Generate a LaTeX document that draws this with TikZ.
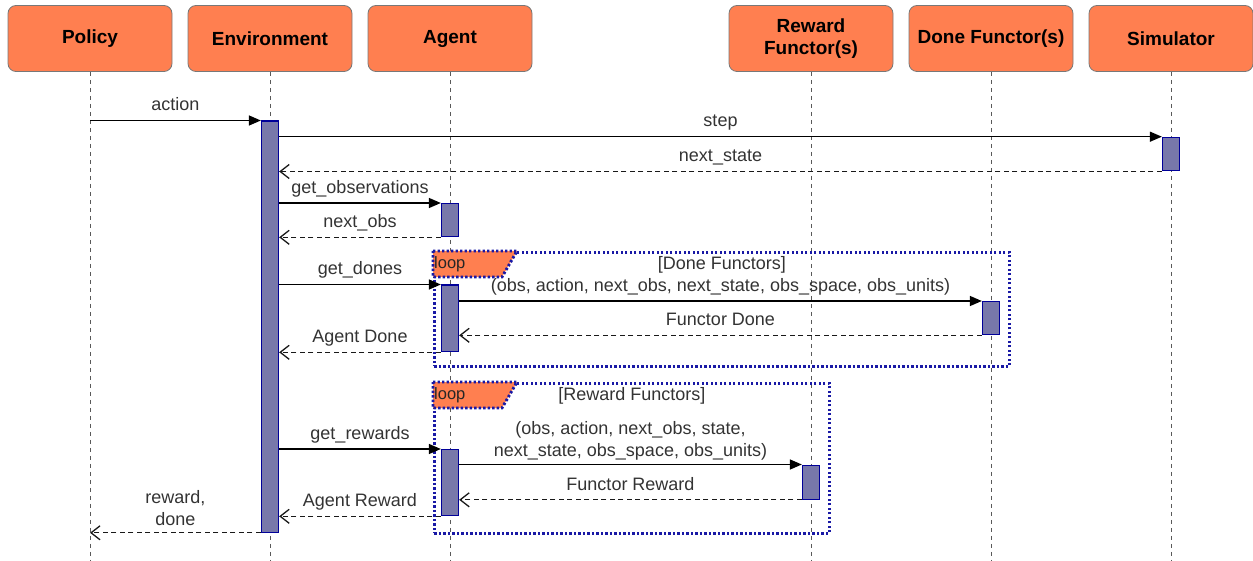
\documentclass[tikz,border=0pt]{standalone}
\usepackage{fontspec}
\setmainfont{Liberation Sans}
\usetikzlibrary{arrows.meta,calc}
\definecolor{hdr}{RGB}{255,127,80}
\definecolor{hdrline}{RGB}{120,120,120}
\definecolor{actfill}{RGB}{120,120,170}
\definecolor{navy}{RGB}{0,0,153}
\definecolor{frblue}{RGB}{25,25,165}
\begin{document}
\begin{tikzpicture}[x=1pt,y=-1pt,
  head/.style={draw=hdrline, fill=hdr, rounded corners=8pt, minimum width=164pt, minimum height=66pt,
    font=\fontsize{19}{22}\selectfont\bfseries, align=center, inner sep=0pt, line width=0.8pt},
  life/.style={draw=black!65, line width=0.9pt, dash pattern=on 4pt off 4pt},
  act/.style={draw=navy, fill=actfill, line width=1.3pt, minimum width=17pt, anchor=north, inner sep=0pt},
  sync/.style={draw=black, line width=1.4pt, -{Triangle[length=12pt,width=10pt]}},
  ret/.style={draw=black!90, line width=1.3pt, dash pattern=on 5pt off 3.5pt, -{Straight Barb[length=9pt,width=14pt]}},
  lbl/.style={font=\fontsize{18}{21.5}\selectfont, text=black!80, text height=13pt, text depth=4pt,
    inner sep=0pt, anchor=south, yshift=5pt},
  lbltwo/.style={font=\fontsize{18}{21.5}\selectfont, text=black!80, align=center, inner sep=0pt, anchor=south},
  frame/.style={draw=frblue, line width=2.9pt, dash pattern=on 2.4pt off 2.1pt},
  frlbl/.style={font=\fontsize{18}{21.5}\selectfont, text=black!80, text height=13pt, text depth=4pt,
    inner sep=0pt, anchor=north, yshift=-5pt},
  looplbl/.style={font=\fontsize{16.5}{19}\selectfont, text=black!85, inner sep=0pt, anchor=west},
]
\useasboundingbox (0,0) rectangle (1253,561);
\coordinate (bot) at (0,561);
% headers
\node[head] (pol) at (90,38.5) {Policy};
\node[head] (env) at (270,38.5) {Environment};
\node[head] (agt) at (450,38.5) {Agent};
\node[head] (rew) at (811,38.5) {Reward\\Functor(s)};
\node[head] (don) at (991,38.5) {Done Functor(s)};
\node[head] (sim) at (1171,38.5) {Simulator};
% lifelines
\foreach \h in {pol,env,agt,rew,don,sim}
  \draw[life] (\h.south) -- (\h.south |- bot);
% loop frames
\node[frame, minimum width=575pt, minimum height=114pt, anchor=north west, inner sep=0pt] (fr1) at (433,251) {};
\draw[frame, fill=hdr] (fr1.north west) -- ++(84,0) -- ++(-15,26) -- ++(-69,0) -- cycle;
\node[looplbl] (lp1) at ($(fr1.north west)+(1,13)$) {loop};
\node[frlbl] (fl1) at (fr1.north) {[Done Functors]};
\node[frame, minimum width=395pt, minimum height=150pt, anchor=north west, inner sep=0pt] (fr2) at (433,382) {};
\draw[frame, fill=hdr] (fr2.north west) -- ++(84,0) -- ++(-15,26) -- ++(-69,0) -- cycle;
\node[looplbl] (lp2) at ($(fr2.north west)+(1,13)$) {loop};
\node[frlbl] (fl2) at (fr2.north) {[Reward Functors]};
% activation bars
\node[act, minimum height=411pt] (envA) at (270,120.5) {};
\node[act, minimum height=33.5pt] (simA) at (1171,136.7) {};
\node[act, minimum height=33pt] (agA) at (450,203) {};
\node[act, minimum height=66.5pt] (agB) at (450,284.5) {};
\node[act, minimum height=33pt] (donA) at (991,301) {};
\node[act, minimum height=66pt] (agC) at (450,449) {};
\node[act, minimum height=34pt] (rewA) at (811,464.5) {};
% messages
\draw[sync] (pol.south |- envA.north) -- node[lbl]{action} (envA.north west);
\draw[sync] (envA.east |- simA.north) -- node[lbl]{step} (simA.north west);
\draw[ret] (simA.south west) -- node[lbl]{next\_state} (envA.east |- simA.south);
\draw[sync] (envA.east |- agA.north) -- node[lbl]{get\_observations} (agA.north west);
\draw[ret] (agA.south west) -- node[lbl]{next\_obs} (envA.east |- agA.south);
\draw[sync] (envA.east |- agB.north) -- node[lbl]{get\_dones} (agB.north west);
\draw[sync] (agB.east |- donA.north) -- node[lbl]{(obs, action, next\_obs, next\_state, obs\_space, obs\_units)} (donA.north west);
\draw[ret] (donA.south west) -- node[lbl]{Functor Done} (agB.east |- donA.south);
\draw[ret] (agB.south west) -- node[lbl]{Agent Done} (envA.east |- agB.south);
\draw[sync] (envA.east |- agC.north) -- node[lbl]{get\_rewards} (agC.north west);
\draw[sync] (agC.east |- rewA.north) -- node[lbltwo, yshift=4pt]{(obs, action, next\_obs, state,\\next\_state, obs\_space, obs\_units)} (rewA.north west);
\draw[ret] (rewA.south west) -- node[lbl]{Functor Reward} (agC.east |- rewA.south);
\draw[ret] (agC.south west) -- node[lbl]{Agent Reward} (envA.east |- agC.south);
\draw[ret] (envA.south west) -- node[lbltwo, yshift=6.5pt]{reward,\\done} (pol.south |- envA.south);
\end{tikzpicture}
\end{document}
